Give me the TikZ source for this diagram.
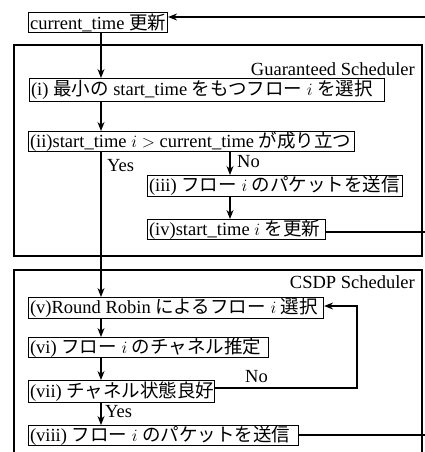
\documentclass[tikz,border=0pt]{standalone}
\usepackage{fontspec}
\setmainfont{Liberation Serif}
\newfontfamily\jpfont[Scale=1.0]{Noto Sans CJK JP}
\usetikzlibrary{arrows.meta}
\newcommand{\J}[1]{{\jpfont #1}}
\newcommand{\bx}[2]{\makebox[\dimexpr #1pt-3pt\relax][l]{#2}}
\begin{document}
\begin{tikzpicture}[x=1pt,y=-1pt,
  font=\fontsize{18.5}{20}\selectfont,
  stepbox/.style={draw,line width=1.1pt,rectangle,anchor=north west,inner xsep=1.5pt,inner ysep=0pt},
  grp/.style={draw,line width=1.1pt},
  conn/.style={line width=1.1pt},
  arr/.style={conn,-{Stealth[length=9pt,width=7pt]}},
  lbl/.style={inner sep=0pt}]
\clip (0,0) rectangle (425,452);
\fill[white] (0,0) rectangle (425,452);
% group frames
\draw[grp] (14,45) rectangle (422,256);
\draw[grp] (14,270) rectangle (422,470);
\node[lbl,anchor=base east] (glabel) at (415,75) {Guaranteed Scheduler};
\node[lbl,anchor=base east] (clabel) at (415,288) {CSDP Scheduler};
% boxes
\node[stepbox,minimum height=20pt] (ct) at (28,12) {\bx{139}{current\_time \J{更新}}};
\node[stepbox,minimum height=23pt] (s1) at (29,78) {\bx{355}{(i) \J{最小の} start\_time \J{をもつフロー} $i$ \J{を選択}}};
\node[stepbox,minimum height=20pt] (s2) at (28,131) {\bx{326}{(ii)start\_time $i>$ current\_time \J{が成り立つ}}};
\node[stepbox,minimum height=21pt] (s3) at (147,175) {\bx{255}{(iii) \J{フロー} $i$ \J{のパケットを送信}}};
\node[stepbox,minimum height=20pt] (s4) at (147,219) {\bx{178}{(iv)start\_time $i$ \J{を更新}}};
\node[stepbox,minimum height=21pt] (s5) at (28,297) {\bx{295}{(v)Round Robin \J{によるフロー} $i$ \J{選択}}};
\node[stepbox,minimum height=20pt] (s6) at (28,337) {\bx{240}{(vi) \J{フロー} $i$ \J{のチャネル推定}}};
\node[stepbox,minimum height=22pt] (s7) at (28,380) {\bx{186}{(vii) \J{チャネル状態良好}}};
\node[stepbox,minimum height=20pt] (s8) at (28,425) {\bx{270}{(viii) \J{フロー} $i$ \J{のパケットを送信}}};
% helper coordinates
\coordinate (vx) at (101,0);
\coordinate (nx) at (230,0);
\coordinate (ctin) at (430,17);
\coordinate (r4) at (430,232);
\coordinate (r8) at (430,435);
\coordinate (lx) at (357,0);
\coordinate (lin) at (0,306);
\coordinate (lout) at (0,388);
% connectors
\draw[arr] (ctin) -- (ctin -| ct.east);
\draw[arr] (ct.south -| vx) -- (s1.north -| vx);
\draw[arr] (s1.south -| vx) -- (s2.north -| vx);
\draw[arr] (s2.south -| nx) -- (s3.north -| nx);
\draw[arr] (s3.south -| nx) -- (s4.north -| nx);
\draw[conn] (s4.east |- r4) -- (r4);
\draw[arr] (s2.south -| vx) -- (s5.north -| vx);
\draw[arr] (s5.south -| vx) -- (s6.north -| vx);
\draw[arr] (s6.south -| vx) -- (s7.north -| vx);
\draw[arr] (s7.south -| vx) -- (s8.north -| vx);
\draw[arr] (s7.east |- lout) -- (lx |- lout) -- (lx |- lin) -- (s5.east |- lin);
\draw[conn] (s8.east |- r8) -- (r8);
% labels
\node[lbl,anchor=base west] (yes1) at (107,171) {Yes};
\node[lbl,anchor=base west] (no1) at (237,167) {No};
\node[lbl,anchor=base west] (no2) at (245,382) {No};
\node[lbl,anchor=base west] (yes2) at (105,417) {Yes};
\end{tikzpicture}
\end{document}
